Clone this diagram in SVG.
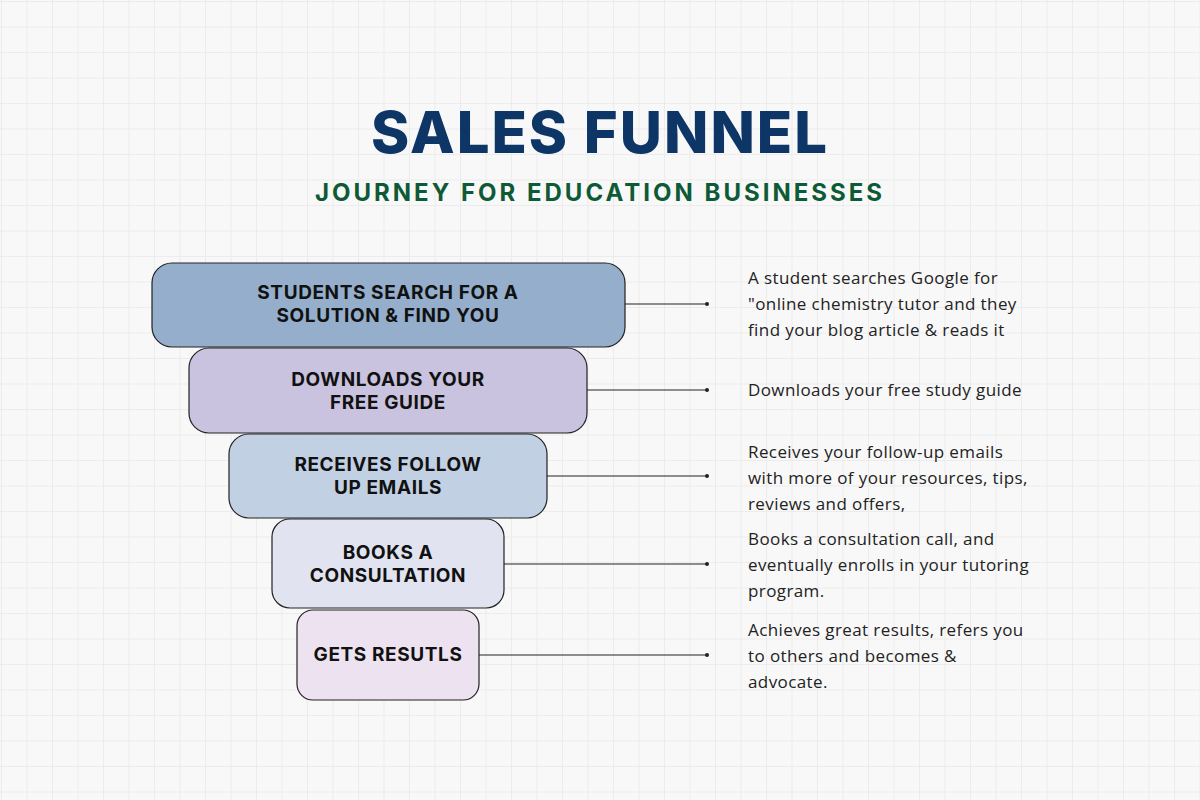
<svg xmlns="http://www.w3.org/2000/svg" width="1200" height="800" viewBox="0 0 1200 800">
<defs>
<pattern id="grid" width="25.5" height="25.5" patternUnits="userSpaceOnUse" x="1" y="1">
<path d="M0 0H25.5M0 0V25.5" fill="none" stroke="#e9e9e9" stroke-width="1.5"/>
</pattern>
<style>
.box{stroke:#222;stroke-width:1.2}
.bt{font-family:Inter,"Open Sans",sans-serif;font-weight:700;font-size:19px;fill:#111;text-anchor:middle;letter-spacing:0.6px}
.d{font-family:"Open Sans",Lato,sans-serif;font-size:17px;fill:#222;letter-spacing:0.4px}
.c{stroke:#222;stroke-width:1.2;fill:none}
</style>
</defs>
<rect width="1200" height="800" fill="#f8f8f8"/>
<rect width="1200" height="800" fill="url(#grid)"/>
<text x="600" y="153" font-family="Inter,'Open Sans',sans-serif" font-weight="800" font-size="58" fill="#0d3566" text-anchor="middle" letter-spacing="2">SALES FUNNEL</text>
<text x="600" y="201" font-family="Inter,'Open Sans',sans-serif" font-weight="700" font-size="24" fill="#0f5a36" text-anchor="middle" letter-spacing="3">JOURNEY FOR EDUCATION BUSINESSES</text>
<g id="connectors">
<path class="c" d="M625 304H707M587 390H707M547 476H707M504 564H707M479 655H707"/>
<g fill="#222"><circle cx="707" cy="304" r="2"/><circle cx="707" cy="390" r="2"/><circle cx="707" cy="476" r="2"/><circle cx="707" cy="564" r="2"/><circle cx="707" cy="655" r="2"/></g>
</g>
<g id="n1"><rect class="box" x="152" y="263" width="473" height="84" rx="20" fill="#94aecb"/>
<text class="bt" x="388" y="299">STUDENTS SEARCH FOR A</text><text class="bt" x="388" y="322">SOLUTION &amp; FIND YOU</text></g>
<g id="n2"><rect class="box" x="189" y="348" width="398" height="85" rx="20" fill="#c9c3df"/>
<text class="bt" x="388" y="386">DOWNLOADS YOUR</text><text class="bt" x="388" y="409">FREE GUIDE</text></g>
<g id="n3"><rect class="box" x="229" y="434" width="318" height="84" rx="20" fill="#c2d0e4"/>
<text class="bt" x="388" y="471">RECEIVES FOLLOW</text><text class="bt" x="388" y="494">UP EMAILS</text></g>
<g id="n4"><rect class="box" x="272" y="519" width="232" height="89" rx="18" fill="#e1e4f0"/>
<text class="bt" x="388" y="559">BOOKS A</text><text class="bt" x="388" y="582">CONSULTATION</text></g>
<g id="n5"><rect class="box" x="297" y="610" width="182" height="90" rx="16" fill="#ede2ef"/>
<text class="bt" x="388" y="661">GETS RESUTLS</text></g>
<g id="desc">
<text class="d" x="748" y="284">A student searches Google for</text>
<text class="d" x="748" y="310">"online chemistry tutor and they</text>
<text class="d" x="748" y="336">find your blog article &amp; reads it</text>
<text class="d" x="748" y="396">Downloads your free study guide</text>
<text class="d" x="748" y="458">Receives your follow-up emails</text>
<text class="d" x="748" y="484">with more of your resources, tips,</text>
<text class="d" x="748" y="510">reviews and offers,</text>
<text class="d" x="748" y="545">Books a consultation call, and</text>
<text class="d" x="748" y="571">eventually enrolls in your tutoring</text>
<text class="d" x="748" y="597">program.</text>
<text class="d" x="748" y="636">Achieves great results, refers you</text>
<text class="d" x="748" y="662">to others and becomes &amp;</text>
<text class="d" x="748" y="688">advocate.</text>
</g>
</svg>
